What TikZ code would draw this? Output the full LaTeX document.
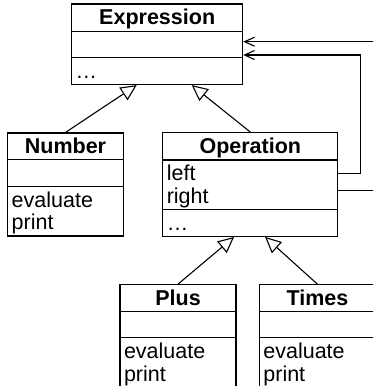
\documentclass[tikz,border=0pt]{standalone}
\usepackage{fontspec}
\setmainfont{Liberation Sans}
\usepackage{tikz}
\usetikzlibrary{shapes.multipart,arrows.meta,positioning}
\newcommand{\clstrut}{\rule[-3.7pt]{0pt}{22.5pt}}
\newcommand{\clhead}[1]{\hbox to\hsize{\hss\clstrut\bfseries #1\hss}}
\tikzset{class/.style={rectangle split,rectangle split parts=3,draw,line width=1.1pt,
    font=\fontsize{21.5}{22.5}\selectfont,align=left,inner xsep=4pt,inner ysep=1.5pt},
  inherit/.style={-{Triangle[open,length=16pt,width=15pt]},line width=1.1pt},
  assoc/.style={-{Straight Barb[length=10pt,width=9pt]},line width=1.1pt}}

\begin{document}
\begin{tikzpicture}
           \useasboundingbox (0,0) rectangle (373pt,-386pt);
           \clip (0,0) rectangle (373pt,-386pt);
           \node[class,text width=163pt] (expr) at (157.2pt,-44.25pt)
              {\clhead{Expression}\nodepart{two}\clstrut\nodepart{three}\clstrut\ldots};
           \node[class,text width=107.6pt] (num) at (65.5pt,-184.5pt)
              {\clhead{Number}\nodepart{two}\clstrut
               \nodepart{three}\clstrut evaluate\\\clstrut print};
           \node[class,text width=167pt] (op) [right=38.4pt of num]
              {\clhead{Operation}\nodepart{two}\clstrut left\\\clstrut right
               \nodepart{three}\clstrut\ldots};
           \node[class,text width=108pt] (plus) at (178pt,-336.2pt)
              {\clhead{Plus}\nodepart{two}\clstrut
               \nodepart{three}\clstrut evaluate\\\clstrut print};
           \node[class,text width=108pt] (times) [right=22.3pt of plus]
              {\clhead{Times}\nodepart{two}\clstrut
               \nodepart{three}\clstrut evaluate\\\clstrut print};
            % generalisations
            \draw[inherit] (num.north) -- ([xshift=-20.5pt]expr.south);
            \draw[inherit] (op.north) -- ([xshift=34.5pt]expr.south);
            \draw[inherit] (plus.north) -- ([xshift=-16.2pt]op.south);
            \draw[inherit] (times.north) -- ([xshift=14.8pt]op.south);
            % left and right
            \draw[assoc] ([yshift=11.2pt]op.east) -- ++(22.3pt,0) |- ([yshift=-10.75pt]expr.east);
            \draw[assoc] ([yshift=-6.2pt]op.east) -- ++(50pt,0) |- ([yshift=2.55pt]expr.east);
        \end{tikzpicture}
\end{document}
